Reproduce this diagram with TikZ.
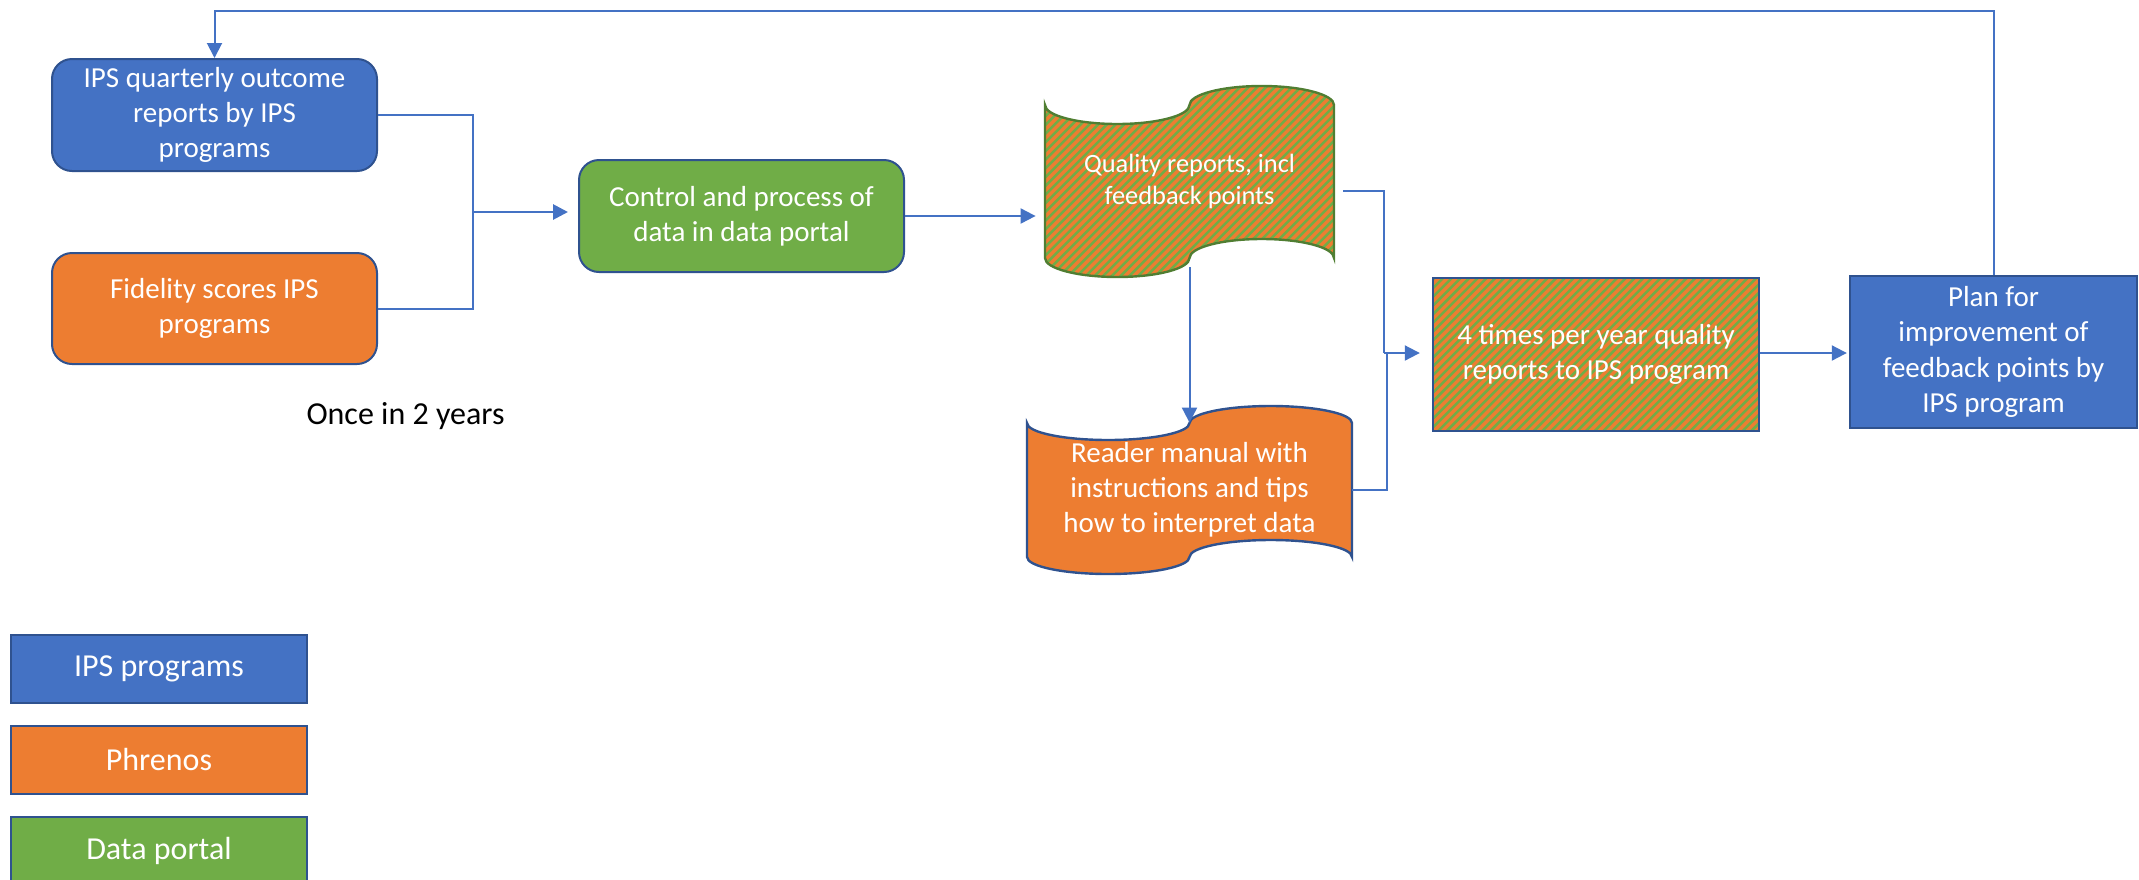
\documentclass[tikz,border=0pt]{standalone}
\usepackage{fontspec}
\setmainfont{Carlito}
\usetikzlibrary{arrows.meta,calc}
\definecolor{ipsblue}{HTML}{4472C4}
\definecolor{phorange}{HTML}{ED7D31}
\definecolor{dpgreen}{HTML}{70AD47}
\definecolor{edgeblue}{HTML}{2F528F}
\definecolor{edgegreen}{HTML}{507E32}
% #1 style, #2 x0, #3 top y, #4 x1, #5 bottom y, #6 amplitude
\newcommand\tapeshape[6]{%
 \path[#1] (#2,#3)
  arc[start angle=180,end angle=0,x radius={(#4-#2)/4},y radius=#6]
  arc[start angle=180,end angle=360,x radius={(#4-#2)/4},y radius=#6]
  -- (#4,#5)
  arc[start angle=0,end angle=-180,x radius={(#4-#2)/4},y radius=#6]
  arc[start angle=0,end angle=180,x radius={(#4-#2)/4},y radius=#6]
  -- cycle;}
\tikzset{
  boxtext/.style={text=white,align=center,font=\fontsize{14.5}{17.6}\selectfont,inner sep=0pt},
  rbox/.style={boxtext,draw=edgeblue,line width=1pt,rounded corners=10pt},
  sbox/.style={boxtext,draw=edgeblue,line width=1.2pt},
  striped/.style={fill=phorange,path picture={
     \foreach \k in {-30,...,45}
       \draw[dpgreen,line width=1.25pt] ($(path picture bounding box.south west)+(\k*8.7,5)$) -- ++(320,-320);}},
  legbox/.style={text=white,align=center,font=\fontsize{16}{19}\selectfont,draw=edgeblue,line width=1pt,inner sep=0pt,minimum width=148pt,minimum height=34pt},
  conn/.style={draw=ipsblue,line width=1pt},
  arr/.style={conn,-{Triangle[length=7.5pt,width=7.5pt]}}
}
\begin{document}
\begin{tikzpicture}[x=0.5pt,y=-0.5pt]
\useasboundingbox (0,0) rectangle (2139,879);
% process boxes
\node[rbox,fill=ipsblue,minimum width=162.5pt,minimum height=56pt] (b1) at (214.5,115) {IPS quarterly outcome\\reports by IPS\\programs};
\node[rbox,fill=phorange,minimum width=162.5pt,minimum height=55.5pt] (b2) at (214.5,308.5) {Fidelity scores IPS\\programs};
\node[rbox,fill=dpgreen,minimum width=162.5pt,minimum height=56pt] (b3) at (741.5,216) {Control and process of\\data in data portal};
% tape shapes
\tapeshape{striped,draw=edgegreen,line width=1.2pt}{1045}{105}{1334}{258}{19}
\node[boxtext,font=\fontsize{13.2}{15.8}\selectfont,minimum width=144.5pt,minimum height=76.5pt] (q) at (1189.5,181.5) {Quality reports, incl\\feedback points};
\tapeshape{fill=phorange,draw=edgeblue,line width=1.2pt}{1027}{423}{1352}{557}{17}
\node[boxtext,minimum width=162.5pt,minimum height=67pt] (r) at (1189.5,490) {Reader manual with\\instructions and tips\\how to interpret data};
\node[sbox,striped,minimum width=163pt,minimum height=76.5pt] (f) at (1596,354.5) {4 times per year quality\\reports to IPS program};
\node[sbox,fill=ipsblue,minimum width=143.5pt,minimum height=76pt] (p) at (1993.5,352) {Plan for\\improvement of\\feedback points by\\IPS program};
% label
\node[font=\fontsize{16}{19}\selectfont,inner sep=0pt] (once) at (405.5,416) {Once in 2 years};
% legend
\node[legbox,fill=ipsblue] (l1) at (159,669) {IPS programs};
\node[legbox,fill=phorange] (l2) at (159,759.5) {Phrenos};
\node[legbox,fill=dpgreen] (l3) at (159,851) {Data portal};
% connectors
\coordinate (j1) at (473,212);
\draw[conn] (b1.east) -| (j1) |- (b2.east);
\draw[arr,line width=1.4pt] (j1) -- ($(b3.west |- j1)+(-10,0)$);
\draw[arr] (b3.east) -- ($(q.west |- b3.east)+(-9,0)$);
\draw[arr] ($(q.south)+(0,9)$) -- (r.north);
\coordinate (j2) at (1384,353);
\draw[conn] ($(q.east)+(9,9)$) -| (j2);
\draw[conn] (r.east) -| ($(j2)+(3,0)$);
\draw[arr] (j2) -- ($(f.west |- j2)+(-12,0)$);
\draw[arr] (f.east |- j2) -- ($(p.west |- j2)+(-2,0)$);
\coordinate (tp) at (0,11);
\draw[arr] (p.north) |- (tp -| b1.north) -- (b1.north);
\end{tikzpicture}
\end{document}
